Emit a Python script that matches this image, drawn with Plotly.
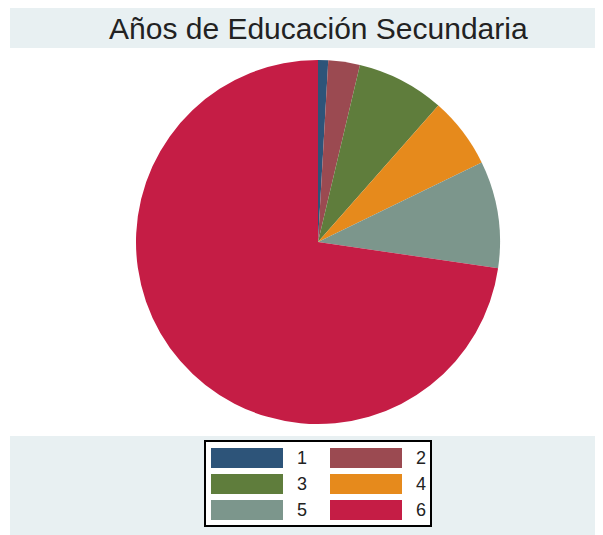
import plotly.graph_objects as go

# the page adds an 8px body margin, so the figure is shrunk and shifted by it
OFF = 8
W, H = 603 - OFF, 535 - OFF

# Años de educación secundaria (percentage share)
labels = ['1', '2', '3', '4', '5', '6']
values = [0.9, 2.8, 7.8, 6.3, 9.5, 72.7]
colors = ['#2d5479', '#9b4a51', '#5f7d3c', '#e68a1c', '#7c968c', '#c51d45']

title = 'Años de Educación Secundaria'
band = '#e8f0f2'


def px(x):
    return (x - OFF) / W


def py(y):
    return 1 - (y - OFF) / H


fig = go.Figure()

fig.add_trace(go.Pie(
    labels=labels,
    values=values,
    sort=False,
    direction='clockwise',
    rotation=0,
    textinfo='none',
    hoverinfo='label+percent',
    showlegend=False,
    marker=dict(colors=colors, line=dict(width=0)),
    domain=dict(x=[px(136), px(500)], y=[py(424), py(60)]),
))

shapes = [
    # title band
    dict(type='rect', xref='paper', yref='paper', layer='below',
         x0=px(10), x1=1, y0=py(48), y1=py(6),
         fillcolor=band, line=dict(width=0)),
    # legend band
    dict(type='rect', xref='paper', yref='paper', layer='below',
         x0=px(10), x1=1, y0=0, y1=py(436),
         fillcolor=band, line=dict(width=0)),
    # legend box
    dict(type='rect', xref='paper', yref='paper', layer='below',
         x0=px(205), x1=px(431), y0=py(526), y1=py(441),
         fillcolor='white', line=dict(color='black', width=2)),
]

annotations = [
    dict(text=title, xref='paper', yref='paper', x=px(318), y=py(28),
         showarrow=False, xanchor='center', yanchor='middle',
         font=dict(family='Liberation Sans, Arial', size=30, color='#222222')),
]

# legend keys, two columns
for i, (lab, col) in enumerate(zip(labels, colors)):
    r, c = divmod(i, 2)
    x0 = 211 + c * 119
    y0 = 448 + r * 26
    shapes.append(dict(type='rect', xref='paper', yref='paper',
                       x0=px(x0), x1=px(x0 + 72), y0=py(y0 + 20), y1=py(y0),
                       fillcolor=col, line=dict(width=0)))
    annotations.append(dict(text=lab, xref='paper', yref='paper',
                            x=px(x0 + 84), y=py(y0 + 10),
                            showarrow=False, xanchor='left', yanchor='middle',
                            font=dict(family='Liberation Sans, Arial', size=18,
                                      color='#222222')))

fig.update_layout(
    width=W, height=H,
    margin=dict(l=0, r=0, t=0, b=0),
    paper_bgcolor='white',
    plot_bgcolor='white',
    shapes=shapes,
    annotations=annotations,
)

fig.write_html('out.html')
